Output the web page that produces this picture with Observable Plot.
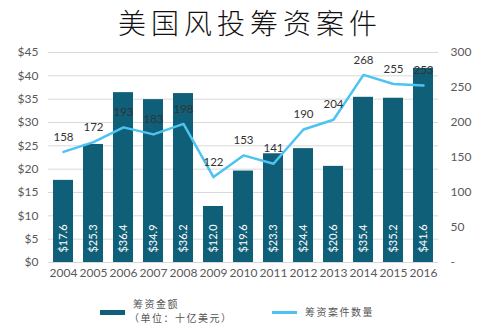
<!DOCTYPE html>
<html><head><meta charset="utf-8">
<script src="https://cdn.jsdelivr.net/npm/d3@7"></script>
<script src="https://cdn.jsdelivr.net/npm/@observablehq/plot@0.6"></script>
<style>
html,body{margin:0;padding:0;background:#fff;width:500px;height:328px;overflow:hidden;position:relative}
#title{position:absolute;left:0;top:4px;width:500px;text-align:center;font-family:"Noto Sans CJK SC";font-weight:300;font-size:28px;letter-spacing:5px;color:#111;line-height:36px}
#chart{position:absolute;left:0;top:40px}
.lg{position:absolute;font-family:"Noto Sans CJK SC";font-size:10px;letter-spacing:1.5px;color:#555;line-height:14px;white-space:nowrap}
</style></head>
<body>
<div id="title">美国风投筹资案件</div>
<div id="chart"></div>
<div class="lg" style="left:100px;top:310px;width:25px;height:5px;background:#0f5f78"></div>
<div class="lg" style="left:133px;top:297px">筹资金额</div>
<div class="lg" style="left:129px;top:311px">（单位：十亿美元）</div>
<div class="lg" style="left:272px;top:311px;width:25px;height:2.5px;background:#4cc3f0"></div>
<div class="lg" style="left:305px;top:305px">筹资案件数量</div>
<script>
const years = ["2004","2005","2006","2007","2008","2009","2010","2011","2012","2013","2014","2015","2016"];
const amounts = [17.6,25.3,36.4,34.9,36.2,12.0,19.6,23.3,24.4,20.6,35.4,35.2,41.6];
const counts = [158,172,193,183,198,122,153,141,190,204,268,255,253];
const leftTicks = [0,5,10,15,20,25,30,35,40,45];
const rightTicks = [0,50,100,150,200,250,300];

const ratio = 45/300;
const data = years.map((y,i)=>({year:y, amount:amounts[i], count:counts[i], countScaled:counts[i]*ratio}));

const chart = Plot.plot({
  width:500, height:250,
  marginTop:12, marginBottom:28, marginLeft:48, marginRight:62,
  style:{fontFamily:"Lato", fontSize:"12px", color:"#595959", background:"#fff"},
  x:{domain:years, paddingInner:0.33, paddingOuter:0.165},
  y:{domain:[0,45]},
  marks:[
    Plot.ruleY(leftTicks,{stroke:"#d9d9d9", strokeWidth:1}),
    Plot.axisY(leftTicks,{anchor:"left", tickSize:0, tickPadding:10, tickFormat:d=>"$"+d, label:null, fontSize:12}),
    Plot.axisY(rightTicks.map(t=>t*ratio),{anchor:"right", tickSize:0, tickPadding:12, tickFormat:d=>{const v=Math.round(d/ratio); return v===0?"-":String(v);}, label:null, textAnchor:"start", fontSize:12}),
    Plot.axisX({tickSize:0, tickPadding:6, label:null, fontSize:12}),
    Plot.barY(data,{x:"year", y:"amount", fill:"#0f5f78"}),
    Plot.text(data,{x:"year", y:()=>0, text:d=>"$"+d.amount.toFixed(1), rotate:-90, dy:-24, fill:"#fff", fontSize:11, textAnchor:"middle"}),
    Plot.line(data,{x:"year", y:"countScaled", stroke:"#4cc3f0", strokeWidth:2.5}),
    Plot.text(data,{x:"year", y:"countScaled", text:d=>String(d.count), dy:-15, fill:"#333", fontSize:11.5})
  ]
});
document.getElementById("chart").appendChild(chart);
</script>
</body></html>
